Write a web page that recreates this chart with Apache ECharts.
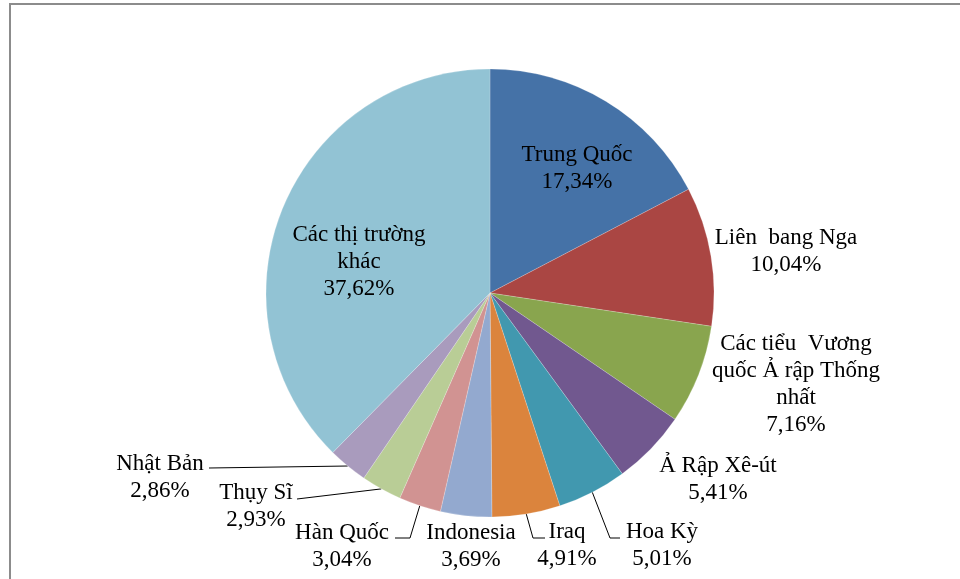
<!DOCTYPE html>
<html>
<head>
<meta charset="utf-8">
<script src="https://cdn.jsdelivr.net/npm/echarts@6/dist/echarts.min.js"></script>
<style>
html, body { margin: 0; padding: 0; background: #fff; }
#chart { width: 960px; height: 579px; }
</style>
</head>
<body>
<div id="chart"></div>
<script>
const markets = ['Trung Quốc', 'Liên bang Nga', 'Các tiểu Vương quốc Ả rập Thống nhất', 'Ả Rập Xê-út', 'Hoa Kỳ', 'Iraq', 'Indonesia', 'Hàn Quốc', 'Thụy Sĩ', 'Nhật Bản', 'Các thị trường khác'];
// label text as it is wrapped on the picture
const labelNames = ['Trung Quốc', 'Liên  bang Nga', 'Các tiểu  Vương\nquốc Ả rập Thống\nnhất', 'Ả Rập Xê-út', 'Hoa Kỳ', 'Iraq', 'Indonesia', 'Hàn Quốc', 'Thụy Sĩ', 'Nhật Bản', 'Các thị trường\nkhác'];
const shares = [17.34, 10.04, 7.16, 5.41, 5.01, 4.91, 3.69, 3.04, 2.93, 2.86, 37.62];

const colors = ['#4572A7', '#AA4643', '#89A54E', '#71588F', '#4198AF', '#DB843D', '#93A9CF', '#D19392', '#B9CD96', '#A99BBD', '#92C3D4'];

// centre of each label block, and leader bends relative to it (null = no leader)
const spots = [
    [577, 168], [786, 251], [796, 384], [718, 479], [662, 545], [567, 545],
    [471, 546], [342, 546], [256, 506], [160, 477], [359, 262]
];
const leaders = [
    null, null, null, null,
    [[-52, -7], [-42, -7]],
    [[-34, -7], [-22, -7]],
    null,
    [[68, -8], [53, -8]],
    [[41, -7]],
    [[49, -9]],
    null
];

const chart = echarts.init(document.getElementById('chart'));

const fmt = v => v.toFixed(2).replace('.', ',') + '%';

chart.setOption({
    animation: false,
    backgroundColor: '#fff',
    graphic: [{
        type: 'rect',
        shape: { x: 10, y: 4, width: 1200, height: 1200 },
        style: { fill: 'none', stroke: '#8c8c8c', lineWidth: 2 },
        silent: true
    }],
    series: [{
        type: 'pie',
        center: [490, 293],
        radius: 224,
        startAngle: 90,
        clockwise: true,
        avoidLabelOverlap: false,
        itemStyle: { borderColor: 'rgba(255,255,255,0.4)', borderWidth: 0.5 },
        label: {
            show: true,
            position: 'outside',
            color: '#000',
            fontFamily: '"Liberation Serif", "Times New Roman", serif',
            fontSize: 23,
            lineHeight: 27,
            align: 'center',
            formatter: p => labelNames[p.dataIndex] + '\n' + fmt(p.value)
        },
        labelLine: {
            show: true,
            length: 10,
            length2: 10,
            lineStyle: { color: '#000', width: 1 }
        },
        labelLayout: params => {
            const i = params.dataIndex;
            const s = spots[i];
            const out = { x: s[0], y: s[1], align: 'center', verticalAlign: 'middle' };
            const pts = params.labelLinePoints;
            if (leaders[i] && pts) {
                const line = [[pts[0][0], pts[0][1]]];
                leaders[i].forEach(d => line.push([s[0] + d[0], s[1] + d[1]]));
                if (line.length < 3) line.push(line[line.length - 1].slice());
                out.labelLinePoints = line;
            }
            return out;
        },
        data: markets.map((name, i) => ({
            name: name,
            value: shares[i],
            itemStyle: { color: colors[i] },
            labelLine: { show: !!leaders[i] }
        }))
    }]
});
</script>
</body>
</html>
